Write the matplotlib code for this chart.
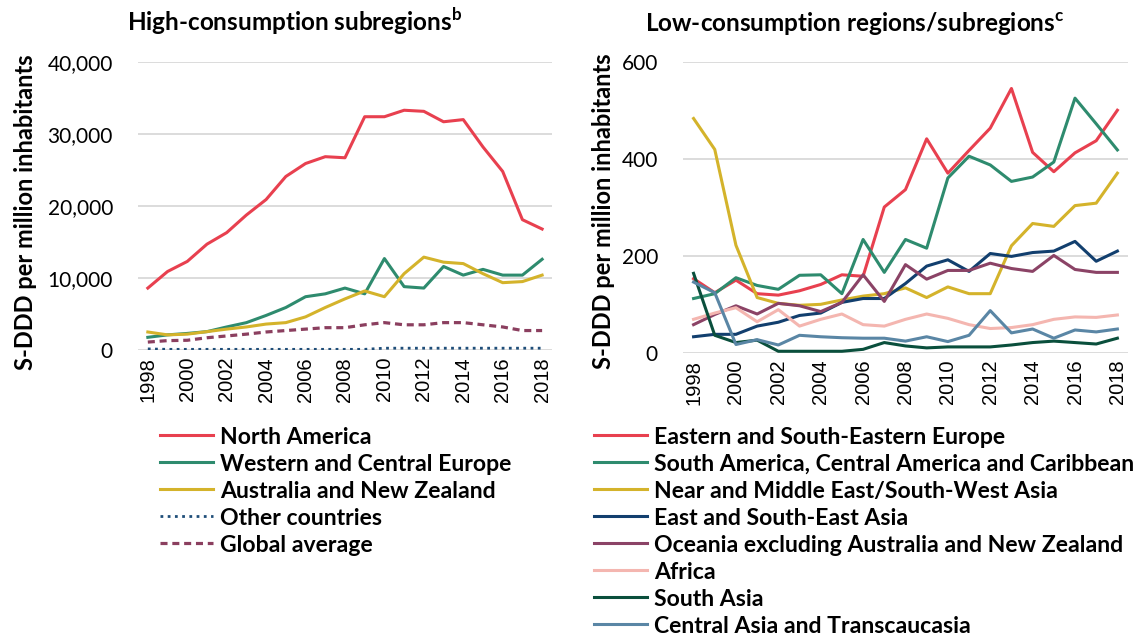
"""
Antimicrobial consumption trends, S-DDD per million inhabitants, 1998-2018.
Output: out.png
"""
import numpy as np
import matplotlib
matplotlib.use('Agg')
import matplotlib.pyplot as plt

years = list(range(1998, 2019))

# ---- high-consumption subregions ----
north_america = [8600, 10900, 12300, 14700, 16300, 18750, 20900, 24100, 25900, 26850, 26700,
                 32400, 32400, 33300, 33150, 31700, 32000, 28200, 24800, 18100, 16800]
west_central_europe = [1760, 2100, 2300, 2550, 3200, 3800, 4800, 5900, 7400, 7800, 8600,
                       7800, 12700, 8800, 8600, 11600, 10400, 11200, 10400, 10400, 12600]
australia_nz = [2500, 2100, 2200, 2550, 2900, 3200, 3600, 3800, 4600, 5900, 7100,
                8200, 7400, 10600, 12900, 12200, 12000, 10600, 9350, 9500, 10400]
other_countries = [150, 90, 90, 90, 90, 90, 90, 90, 90, 90, 90,
                   90, 250, 250, 250, 250, 250, 250, 250, 250, 250]
global_average = [1100, 1300, 1350, 1700, 1950, 2200, 2500, 2700, 2900, 3100, 3100,
                  3500, 3800, 3500, 3500, 3800, 3800, 3500, 3200, 2700, 2700]

high_labels = ['North America', 'Western and Central Europe', 'Australia and New Zealand',
               'Other countries', 'Global average']

# ---- low-consumption regions/subregions ----
east_se_europe = [153, 124, 150, 122, 119, 128, 141, 161, 158, 301, 337,
                  442, 371, 418, 464, 546, 414, 374, 413, 438, 501]
south_central_america = [112, 122, 155, 139, 131, 160, 161, 122, 234, 166, 234,
                         216, 361, 406, 388, 354, 363, 394, 526, 473, 419]
near_middle_east = [484, 420, 222, 114, 102, 98, 100, 109, 117, 122, 134,
                    114, 136, 122, 122, 221, 267, 261, 304, 309, 371]
east_se_asia = [33, 38, 38, 55, 63, 77, 82, 104, 112, 112, 143,
                179, 192, 168, 205, 199, 207, 210, 230, 189, 210]
oceania_excl = [58, 79, 97, 80, 102, 97, 85, 104, 161, 106, 182,
                152, 170, 170, 185, 174, 168, 201, 172, 166, 166]
africa = [69, 82, 93, 64, 89, 55, 69, 80, 58, 55, 69,
          80, 71, 58, 50, 52, 58, 69, 74, 73, 78]
south_asia = [164, 36, 21, 26, 3, 3, 3, 3, 7, 21, 14,
              10, 12, 12, 12, 16, 21, 24, 21, 18, 30]
central_asia = [146, 124, 17, 27, 16, 36, 33, 31, 30, 30, 24,
                33, 23, 36, 87, 41, 49, 30, 47, 43, 49]

low_labels = ['Eastern and South-Eastern Europe',
              'South America, Central America and Caribbean',
              'Near and Middle East/South-West Asia',
              'East and South-East Asia',
              'Oceania excluding Australia and New Zealand',
              'Africa', 'South Asia', 'Central Asia and Transcaucasia']

RED = '#E8404F'
GREEN = '#2E8B6E'
YELLOW = '#D4B32B'
NAVY = '#1F4E79'
PLUM = '#8B4366'

plt.rcParams['mathtext.fontset'] = 'custom'
plt.rcParams['mathtext.rm'] = 'Lato'
plt.rcParams['mathtext.bf'] = 'Lato:bold'


def style_axes(ax, ymax, ystep, fmt):
    ax.set_xlim(1997.5, 2018.5)
    ax.set_ylim(0, ymax)
    ax.set_yticks(np.arange(0, ymax + 1, ystep))
    ax.set_yticklabels([fmt(v) for v in np.arange(0, ymax + 1, ystep)],
                       fontsize=15, family='Lato')
    ax.set_xticks(years[::2])
    ax.set_xticklabels([str(y) for y in years[::2]], rotation=90,
                       fontsize=14.5, family='Liberation Sans')
    ax.grid(axis='y', color='#D9D9D9', linewidth=1.3)
    ax.set_axisbelow(True)
    for s in ax.spines.values():
        s.set_visible(False)
    ax.tick_params(length=0)
    ax.tick_params(axis='y', pad=18)
    ax.tick_params(axis='x', pad=5)
    ax.set_ylabel('S-DDD per million inhabitants', fontsize=17,
                  fontweight='bold', family='Lato')


def main():
    fig = plt.figure(figsize=(11.44, 6.36), dpi=100)
    ax1 = fig.add_axes([0.1206, 0.4497, 0.3619, 0.4528])
    ax2 = fig.add_axes([0.597, 0.4454, 0.389, 0.4566])

    lw = 2.2
    ax1.plot(years, north_america, color=RED, lw=lw)
    ax1.plot(years, west_central_europe, color=GREEN, lw=lw)
    ax1.plot(years, australia_nz, color=YELLOW, lw=lw)
    ax1.plot(years, other_countries, color=NAVY, lw=2.0, ls=(0, (1, 1.6)))
    ax1.plot(years, global_average, color='#8B3F5F', lw=2.3, ls=(0, (2.2, 1.5)))
    style_axes(ax1, 40000, 10000, lambda v: f'{int(v):,}')
    ax1.yaxis.set_label_coords(-0.245, 0.477)

    low_series = [east_se_europe, south_central_america, near_middle_east, east_se_asia,
                  oceania_excl, africa, south_asia, central_asia]
    low_colors = [RED, GREEN, YELLOW, '#123F6E', PLUM, '#F4B6B0', '#0A4F3C', '#5A86A5']
    for vals, c in zip(low_series, low_colors):
        ax2.plot(years, vals, color=c, lw=lw)
    style_axes(ax2, 600, 200, lambda v: f'{int(v)}')
    ax2.yaxis.set_label_coords(-0.153, 0.488)

    fig.text(0.258, 0.951, 'High-consumption subregions$^{\\mathbf{b}}$', fontsize=17.5,
             fontweight='bold', family='Lato', ha='center', va='baseline')
    fig.text(0.747, 0.951, 'Low-consumption regions/subregions$^{\\mathbf{c}}$', fontsize=17.5,
             fontweight='bold', family='Lato', ha='center', va='baseline')

    leg_kw = dict(loc='upper left', bbox_transform=fig.transFigure, frameon=False,
                  handlelength=2.28, handletextpad=0.31, labelspacing=0.26, borderpad=0,
                  borderaxespad=0, prop={'family': 'Lato', 'weight': 'bold', 'size': 16.6})
    ax1.legend(high_labels, bbox_to_anchor=(0.1399, 0.3293), **leg_kw)
    ax2.legend(low_labels, bbox_to_anchor=(0.5192, 0.3293), **leg_kw)

    fig.savefig('out.png', dpi=100)
    plt.close(fig)


if __name__ == '__main__':
    main()
